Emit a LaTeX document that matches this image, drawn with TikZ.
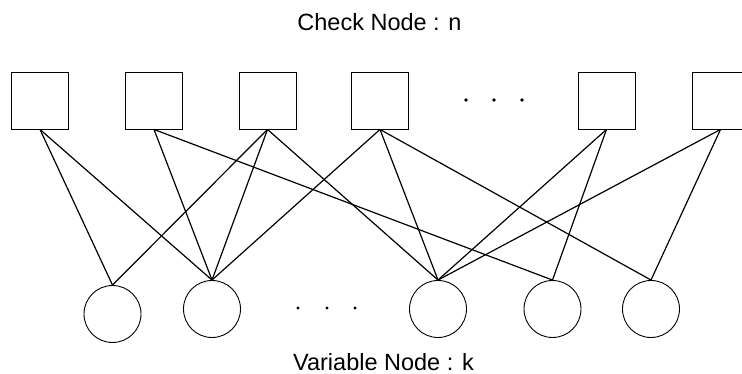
\documentclass[tikz,border=0pt]{standalone}
\usepackage{fontspec}
\setmainfont{Liberation Sans}
\begin{document}
\begin{tikzpicture}[x=1pt,y=-1pt,
  checkbox/.style={draw,line width=0.9pt,rectangle,inner sep=0pt,minimum size=57pt},
  varcirc/.style={draw,line width=0.9pt,circle,inner sep=0pt,minimum size=57pt},
  edge/.style={line width=1.2pt},
  dotmark/.style={fill,circle,inner sep=0pt,minimum size=3.6pt},
  lbl/.style={font=\fontsize{23.5}{28}\selectfont,anchor=base,inner sep=0pt,text depth=0pt}]
\useasboundingbox (0,0) rectangle (742,374);
\clip (0,0) rectangle (742,374);
% check nodes
\node[checkbox] (c1) at (40,100.5) {};
\node[checkbox] (c2) at (154,100.5) {};
\node[checkbox] (c3) at (267.5,100.5) {};
\node[checkbox] (c4) at (380,100.5) {};
\node[checkbox] (c5) at (606.5,100.5) {};
\node[checkbox] (c6) at (720.5,100.5) {};
% variable nodes
\node[varcirc] (v1) at (112.5,314) {};
\node[varcirc] (v2) at (212,309) {};
\node[varcirc] (v3) at (438,309) {};
\node[varcirc] (v4) at (552.5,309) {};
\node[varcirc] (v5) at (651,309) {};
% dots
\node[dotmark] (td1) at (466,100) {};
\node[dotmark] (td2) at (494,100) {};
\node[dotmark] (td3) at (522,100) {};
\node[dotmark,minimum size=3.2pt] (bd1) at (298,308) {};
\node[dotmark,minimum size=3.2pt] (bd2) at (327,308) {};
\node[dotmark,minimum size=3.2pt] (bd3) at (355,308) {};
% edges
\draw[edge] (c1.south) -- (v1.north);
\draw[edge] (c1.south) -- (v2.north);
\draw[edge] (c2.south) -- (v2.north);
\draw[edge] (c2.south) -- (v4.north);
\draw[edge] (c3.south) -- (v1.north);
\draw[edge] (c3.south) -- (v2.north);
\draw[edge] (c3.south) -- (v3.north);
\draw[edge] (c4.south) -- (v2.north);
\draw[edge] (c4.south) -- (v3.north);
\draw[edge] (c4.south) -- (v5.north);
\draw[edge] (c5.south) -- (v3.north);
\draw[edge] (c5.south) -- (v4.north);
\draw[edge] (c6.south) -- (v3.north);
\draw[edge] (c6.south) -- (v5.north);
% labels
\node[lbl] (tcheck) at (379.5,31) {Check Node : n};
\node[lbl] (tvar) at (383.5,370) {Variable Node : k};
\end{tikzpicture}
\end{document}
